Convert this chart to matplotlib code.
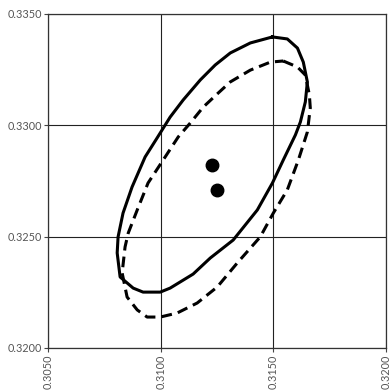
import matplotlib
matplotlib.use("Agg")
import matplotlib.pyplot as plt

# Solid ellipse outline (x, y)
solid_x = [0.31496, 0.31562, 0.31607, 0.31633, 0.31651, 0.31642, 0.31620, 0.31598,
           0.31544, 0.31496, 0.31429, 0.31322, 0.31220, 0.31144, 0.31042, 0.30998,
           0.30922, 0.30878, 0.30820, 0.30807, 0.30811, 0.30833, 0.30873, 0.30931,
           0.30984, 0.31042, 0.31100, 0.31176, 0.31242, 0.31309, 0.31398]
solid_y = [0.33397, 0.33388, 0.33347, 0.33284, 0.33195, 0.33105, 0.33015, 0.32957,
           0.32844, 0.32741, 0.32620, 0.32485, 0.32404, 0.32332, 0.32269, 0.32251,
           0.32251, 0.32269, 0.32319, 0.32427, 0.32499, 0.32606, 0.32723, 0.32858,
           0.32943, 0.33037, 0.33114, 0.33204, 0.33271, 0.33325, 0.33370]

# Dashed ellipse outline (x, y)
dash_x = [0.31544, 0.31607, 0.31642, 0.31660, 0.31664, 0.31651, 0.31611, 0.31562,
          0.31500, 0.31442, 0.31340, 0.31251, 0.31162, 0.31073, 0.30998, 0.30940,
          0.30896, 0.30851, 0.30829, 0.30842, 0.30856, 0.30896, 0.30944, 0.31020,
          0.31078, 0.31131, 0.31189, 0.31251, 0.31309, 0.31398, 0.31487]
dash_y = [0.33289, 0.33262, 0.33226, 0.33136, 0.33078, 0.32970, 0.32844, 0.32710,
          0.32606, 0.32499, 0.32382, 0.32274, 0.32202, 0.32157, 0.32139, 0.32139,
          0.32171, 0.32229, 0.32337, 0.32454, 0.32516, 0.32620, 0.32741, 0.32858,
          0.32948, 0.33010, 0.33082, 0.33141, 0.33195, 0.33248, 0.33284]

# Centre points
pts_x = [0.31228, 0.31250]
pts_y = [0.32822, 0.32710]

x_ticks = [0.3050, 0.3100, 0.3150, 0.3200]
y_ticks = [0.3200, 0.3250, 0.3300, 0.3350]
x_labels = ["0.3050", "0.3100", "0.3150", "0.3200"]
y_labels = ["0.3200", "0.3250", "0.3300", "0.3350"]

fig = plt.figure(figsize=(3.89, 3.91), dpi=100)
ax = fig.add_axes([48/389, 1-348/391, 338/389, 334/391])

ax.set_xlim(0.305, 0.320)
ax.set_ylim(0.320, 0.335)

ax.set_xticks(x_ticks)
ax.set_xticklabels(x_labels, rotation=90, family="Lato", fontsize=7.8, color="#555555")
ax.set_yticks(y_ticks)
ax.set_yticklabels(y_labels, family="Lato", fontsize=7.8, color="#555555")
ax.tick_params(direction="out", length=3, width=0.8, color="#444444", pad=1.5)

ax.grid(True, color="#222222", linewidth=0.8)
ax.set_axisbelow(True)
for s in ax.spines.values():
    s.set_color("#333333")
    s.set_linewidth(0.9)

ax.plot(solid_x + solid_x[:1], solid_y + solid_y[:1], color="black", linewidth=2.2,
        solid_joinstyle="round")
ax.plot(dash_x + dash_x[:1], dash_y + dash_y[:1], color="black", linewidth=2.2,
        dashes=(3.5, 2.0))
ax.plot(pts_x, pts_y, "o", color="black", markersize=9)

fig.savefig("out.png", dpi=100)
